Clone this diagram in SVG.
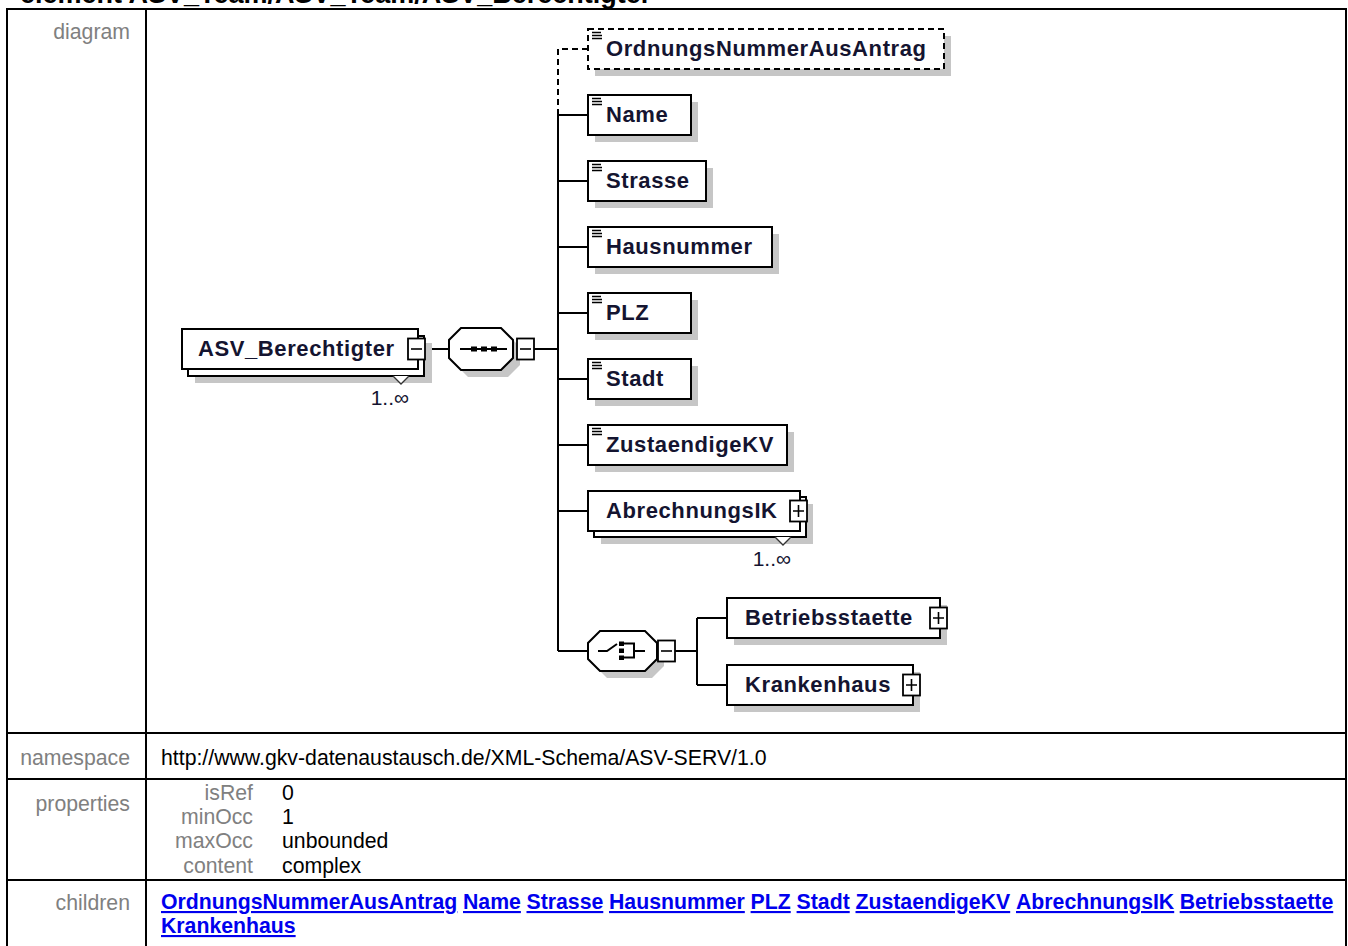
<svg xmlns="http://www.w3.org/2000/svg" width="1348" height="946" viewBox="0 0 1348 946">
<defs>
<style>
text{font-family:"Liberation Sans",Arial,sans-serif}
.ttl{font-size:27px;font-weight:bold;fill:#000}
.lbl{font-size:21.25px;fill:#808080;text-anchor:end}
.val{font-size:21.25px;fill:#000}
.lnk{font-size:21.25px;font-weight:bold;fill:#0000EE;text-decoration:underline}
.nt{font-size:22px;font-weight:bold;fill:#141430;letter-spacing:0.6px}
.mult{font-size:21px;fill:#141430;text-anchor:end}
.frame{fill:none;stroke:#000;stroke-width:2}
.box{fill:#fff;stroke:#000;stroke-width:2}
.sh{fill:#c6c6c6}
.ln{fill:none;stroke:#000;stroke-width:2}
.dash{stroke-dasharray:6 4}
.ic{fill:none;stroke:#000;stroke-width:1.6}
.pm{fill:#fff;stroke:#000;stroke-width:1.8}
.chev{fill:#fff;stroke:#333;stroke-width:1.3}
</style>
<g id="doc"><path class="ic" d="M0 0.5H9M0 3.5H10M0 6.5H10"/></g>
<g id="pbox"><rect class="pm" x="0" y="0" width="17" height="21"/><path class="ic" d="M3 10.5H14M8.5 4.5V16.5"/></g>
<g id="mbox"><rect class="pm" x="0" y="0" width="17" height="21"/><path class="ic" d="M3 10.5H14"/></g>
</defs>
<rect x="0" y="0" width="1348" height="946" fill="#fff"/>

<text class="ttl" x="20" y="3">element ASV_Team/ASV_Team/ASV_Berechtigter</text>

<g id="table">
<rect class="frame" x="7" y="9" width="1339" height="960"/>
<path class="frame" d="M146 9V946M7 733H1346M7 779H1346M7 880H1346"/>
<text class="lbl" x="130" y="39">diagram</text>
<text class="lbl" x="130" y="765">namespace</text>
<text class="val" x="161" y="765">http://www.gkv-datenaustausch.de/XML-Schema/ASV-SERV/1.0</text>
<text class="lbl" x="130" y="811">properties</text>
<text class="lbl" x="253" y="800">isRef</text>
<text class="val" x="282" y="800">0</text>
<text class="lbl" x="253" y="824">minOcc</text>
<text class="val" x="282" y="824">1</text>
<text class="lbl" x="253" y="848">maxOcc</text>
<text class="val" x="282" y="848">unbounded</text>
<text class="lbl" x="253" y="873">content</text>
<text class="val" x="282" y="873">complex</text>
<text class="lbl" x="130" y="910">children</text>
<text class="lnk" x="161" y="909">OrdnungsNummerAusAntrag</text>
<text class="lnk" x="463" y="909">Name</text>
<text class="lnk" x="526.5" y="909">Strasse</text>
<text class="lnk" x="609" y="909">Hausnummer</text>
<text class="lnk" x="750.6" y="909">PLZ</text>
<text class="lnk" x="796.6" y="909">Stadt</text>
<text class="lnk" x="855.5" y="909">ZustaendigeKV</text>
<text class="lnk" x="1016" y="909">AbrechnungsIK</text>
<text class="lnk" x="1179.7" y="909">Betriebsstaette</text>
<text class="lnk" x="161" y="933">Krankenhaus</text>
</g>

<g id="connectors">
<path class="ln" d="M425 349H449M513 349H517M534 349H558"/>
<path class="ln dash" d="M558 115V49H588"/>
<path class="ln" d="M558 115V651M558 115H588M558 181H588M558 247H588M558 313H588M558 379H588M558 445H588M558 511H588M558 651H588"/>
<path class="ln" d="M675 651H697M697 618V685M697 618H727M697 685H727"/>
</g>

<g id="ASV_Berechtigter">
<rect class="sh" x="195" y="343" width="237" height="40"/>
<rect class="box" x="188" y="336" width="236" height="40"/>
<rect class="box" x="182" y="329" width="236" height="40"/>
<text class="nt" x="198" y="356">ASV_Berechtigter</text>
<use href="#mbox" x="408" y="338.5"/>
<path class="chev" d="M393 376L401 384L409 376"/>
<text class="mult" x="409" y="405">1..∞</text>
</g>

<g id="sequence">
<polygon class="sh" points="468,335 508,335 520,347 520,365 508,377 468,377 456,365 456,347"/>
<polygon class="box" points="461,328 501,328 513,340 513,358 501,370 461,370 449,358 449,340"/>
<path class="ln" d="M460 349H507"/>
<rect x="471" y="346.5" width="6" height="5" fill="#000"/>
<rect x="481" y="346.5" width="6" height="5" fill="#000"/>
<rect x="491" y="346.5" width="6" height="5" fill="#000"/>
<use href="#mbox" x="517" y="338.5"/>
</g>

<g id="OrdnungsNummerAusAntrag">
<rect class="sh" x="595" y="36" width="356" height="40"/>
<rect class="box dash" x="588" y="29" width="356" height="40"/>
<use href="#doc" x="592" y="32"/>
<text class="nt" x="606" y="56">OrdnungsNummerAusAntrag</text>
</g>

<g id="Name">
<rect class="sh" x="595" y="102" width="103" height="40"/>
<rect class="box" x="588" y="95" width="103" height="40"/>
<use href="#doc" x="592" y="98"/>
<text class="nt" x="606" y="122">Name</text>
</g>

<g id="Strasse">
<rect class="sh" x="595" y="168" width="118" height="40"/>
<rect class="box" x="588" y="161" width="118" height="40"/>
<use href="#doc" x="592" y="164"/>
<text class="nt" x="606" y="188">Strasse</text>
</g>

<g id="Hausnummer">
<rect class="sh" x="595" y="234" width="184" height="40"/>
<rect class="box" x="588" y="227" width="184" height="40"/>
<use href="#doc" x="592" y="230"/>
<text class="nt" x="606" y="254">Hausnummer</text>
</g>

<g id="PLZ">
<rect class="sh" x="595" y="300" width="103" height="40"/>
<rect class="box" x="588" y="293" width="103" height="40"/>
<use href="#doc" x="592" y="296"/>
<text class="nt" x="606" y="320">PLZ</text>
</g>

<g id="Stadt">
<rect class="sh" x="595" y="366" width="103" height="40"/>
<rect class="box" x="588" y="359" width="103" height="40"/>
<use href="#doc" x="592" y="362"/>
<text class="nt" x="606" y="386">Stadt</text>
</g>

<g id="ZustaendigeKV">
<rect class="sh" x="595" y="432" width="199" height="40"/>
<rect class="box" x="588" y="425" width="199" height="40"/>
<use href="#doc" x="592" y="428"/>
<text class="nt" x="606" y="452">ZustaendigeKV</text>
</g>

<g id="AbrechnungsIK">
<rect class="sh" x="601" y="504" width="212" height="40"/>
<rect class="box" x="594" y="497" width="212" height="40"/>
<rect class="box" x="588" y="491" width="212" height="40"/>
<text class="nt" x="606" y="518">AbrechnungsIK</text>
<use href="#pbox" x="790" y="500.5"/>
<path class="chev" d="M775 537L783 545L791 537"/>
<text class="mult" x="791" y="566">1..∞</text>
</g>

<g id="choice">
<polygon class="sh" points="607,638 652,638 664,650 664,666 652,678 607,678 595,666 595,650"/>
<polygon class="box" points="600,631 645,631 657,643 657,659 645,671 600,671 588,659 588,643"/>
<path class="ln" d="M598 651H607L617 644"/>
<rect x="619" y="641.5" width="5" height="4.5" fill="#000"/>
<rect x="619" y="648.5" width="5" height="4.5" fill="#000"/>
<rect x="619" y="655.5" width="5" height="4.5" fill="#000"/>
<path class="ln" d="M624 643.5H634V657.5H624M634 651H645"/>
<use href="#mbox" x="658" y="640.5"/>
</g>

<g id="Betriebsstaette">
<rect class="sh" x="734" y="605" width="213" height="40"/>
<rect class="box" x="727" y="598" width="213" height="40"/>
<text class="nt" x="745" y="625">Betriebsstaette</text>
<use href="#pbox" x="930" y="607.5"/>
</g>

<g id="Krankenhaus">
<rect class="sh" x="734" y="672" width="186" height="40"/>
<rect class="box" x="727" y="665" width="186" height="40"/>
<text class="nt" x="745" y="692">Krankenhaus</text>
<use href="#pbox" x="903" y="674.5"/>
</g>
</svg>
